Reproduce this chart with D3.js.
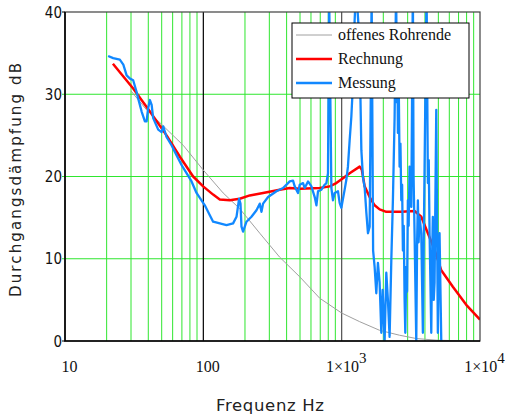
<!DOCTYPE html>
<html>
<head>
<meta charset="utf-8">
<script src="https://cdn.jsdelivr.net/npm/d3@7"></script>
<style>
  html, body { margin: 0; padding: 0; background: #fff; }
  svg { display: block; }
</style>
</head>
<body>
<div id="chart"></div>
<script>
// [frequency Hz, dB]
const rohrende = [
  [30, 30.4], [38.9, 28.1], [71.5, 23.8], [99.7, 20.8], [139, 18.0], [183, 16.1],
  [256, 13.1], [356, 10.2], [498, 7.8], [694, 5.2], [1000, 3.4], [1349, 2.35],
  [1881, 1.3], [2623, 0.7], [3462, 0.3], [4829, 0.1], [8500, 0]
];

const rechnung = [
  [22.2, 33.7], [31.1, 30.7], [41.1, 27.9], [54.2, 25.0], [67.7, 22.4], [84.4, 20.0],
  [99.7, 18.8], [117.7, 17.8], [131.5, 17.2], [155.4, 17.1], [183.4, 17.3], [216.6, 17.7],
  [270.3, 18.0], [356.6, 18.4], [421, 18.6], [498, 18.5], [694, 18.6], [819, 18.8],
  [915, 19.2], [1022, 19.8], [1142, 20.4], [1349, 21.2], [1400, 20.8], [1466, 18.8],
  [1593, 17.5], [1731, 16.5], [1881, 16.0], [2102, 15.7], [2698, 15.7], [3365, 15.8],
  [3763, 15.1], [4199, 13.1], [4694, 11.1], [5248, 8.6], [6364, 6.6], [7953, 4.4],
  [10000, 2.6]
];

const messung = [
  [20.5, 34.65], [22.3, 34.4], [24.9, 34.2], [26.4, 33.6], [27.9, 32.3], [29.5, 31.9],
  [31.1, 31.7], [32.9, 30.3], [33.8, 29.5], [35.8, 27.9], [37.8, 26.7], [38.9, 26.7],
  [39.9, 28.3], [41.1, 29.3], [42.3, 28.7], [43.4, 27.1], [47.2, 25.7], [49.9, 25.4],
  [51.3, 26.1], [54.2, 24.8], [58.9, 23.8], [64.0, 22.6], [69.6, 21.4], [75.6, 20.4],
  [82.2, 19.4], [89.3, 18.0], [102.5, 16.5], [111.4, 15.3], [117.7, 14.5], [131.5, 14.3],
  [147.1, 14.1], [164.1, 14.3], [173.7, 15.1], [181.3, 17.3], [185.6, 16.7], [188.7, 13.9],
  [193.8, 13.3], [205.1, 14.5], [222.8, 15.1], [242.2, 15.9], [255.8, 16.7], [263.2, 15.7],
  [270.3, 16.7], [293.8, 17.5], [337.7, 18.2], [376.9, 18.6], [409.6, 19.2], [421.2, 19.4],
  [445, 19.5], [457.6, 18.8], [483.5, 18.0], [497.6, 19.0], [525.6, 19.2], [540.7, 18.6],
  [571.2, 19.4], [604.4, 18.8], [638.5, 17.5], [656.9, 16.5], [674.5, 18.2], [713.7, 18.4],
  [754, 19.0], [775.5, 19.2], [796.4, 20.4], [812, 42], [842.5, 18.6], [865.3, 17.1],
  [890.2, 18.0], [940.4, 18.2], [967.4, 16.8], [995, 16.2], [1022, 17.3], [1051, 18.4],
  [1081, 19.6], [1110, 21.2], [1142, 24.4], [1175, 27.3], [1207, 31.3], [1221, 35.4],
  [1241, 39.0], [1272, 43], [1334, 37.4], [1365, 30.2], [1388, 23.2], [1425, 19.9],
  [1466, 18.7], [1508, 15.6], [1549, 13.1], [1593, 13.9], [1647, 42], [1688, 11.0],
  [1731, 9.0], [1780, 5.8], [1829, 9.5], [1881, 7.1], [1935, 1.0], [1977, 6.2],
  [2044, 0], [2102, 8.3], [2159, 5.0], [2221, 0.5], [2285, 9.8], [2346, 17.1],
  [2414, 27.2], [2475, 43], [2510, 29], [2530, 34], [2550, 25.3], [2590, 30],
  [2623, 21.2], [2660, 24], [2698, 17.1], [2735, 19], [2771, 11.0], [2810, 14],
  [2851, 5.0], [2884, 1.0], [2932, 9.0], [2970, 6], [3011, 17.1], [3050, 14],
  [3097, 21.2], [3186, 16.3], [3271, 43], [3310, 20], [3365, 13.1], [3462, 0],
  [3510, 12], [3556, 17.1], [3600, 12], [3658, 15.1], [3763, 13.1], [3864, 1.0],
  [3920, 12], [3976, 21.2], [4109, 43], [4199, 19.2], [4260, 22], [4320, 13.1],
  [4444, 1.0], [4500, 10], [4562, 15.1], [4630, 5], [4694, 7.1], [4829, 28.1],
  [4958, 1.0], [5030, 9], [5100, 13.1], [5248, 0]
];

const xTicks = [10, 100, 1000, 10000];
const xTickLabels = [['10', ''], ['100', ''], ['1×10', '3'], ['1×10', '4']];
const yTicks = [0, 10, 20, 30, 40];
const yGrid = [10, 20, 30];

const series = [
  {name: 'offenes Rohrende', data: rohrende, color: '#a0a0a0', width: 1},
  {name: 'Rechnung', data: rechnung, color: '#ff0000', width: 2.5},
  {name: 'Messung', data: messung, color: '#1188ff', width: 2.3}
];

const W = 505, H = 418;
const margin = {left: 65, right: 25, top: 12, bottom: 77};

const svg = d3.select('#chart').append('svg')
  .attr('width', W)
  .attr('height', H);

const x = d3.scaleLog().domain([10, 10000]).range([margin.left, W - margin.right]);
const y = d3.scaleLinear().domain([0, 40]).range([H - margin.bottom, margin.top]);

// minor decade lines
const minor = [];
[10, 100, 1000].forEach(function(d) {
  for (let k = 2; k <= 9; k++) minor.push(k * d);
});

svg.append('g').selectAll('line').data(minor).join('line')
  .attr('x1', d => x(d)).attr('x2', d => x(d))
  .attr('y1', y(0)).attr('y2', y(40))
  .attr('stroke', '#2fe62f').attr('stroke-width', 1);

svg.append('g').selectAll('line').data(yGrid).join('line')
  .attr('x1', x(10) - 3).attr('x2', x(10000))
  .attr('y1', d => y(d)).attr('y2', d => y(d))
  .attr('stroke', '#2fe62f').attr('stroke-width', 1);

svg.append('g').selectAll('line').data([100, 1000]).join('line')
  .attr('x1', d => x(d)).attr('x2', d => x(d))
  .attr('y1', y(0)).attr('y2', y(40))
  .attr('stroke', (d, i) => i === 0 ? '#000' : '#505050').attr('stroke-width', 1.2);

svg.append('defs').append('clipPath').attr('id', 'plot')
  .append('rect')
  .attr('x', x(10)).attr('y', y(40))
  .attr('width', x(10000) - x(10)).attr('height', y(0) - y(40));

const line = d3.line().x(d => x(d[0])).y(d => y(d[1]));

svg.append('g').attr('clip-path', 'url(#plot)')
  .selectAll('path').data(series).join('path')
  .attr('d', d => line(d.data))
  .attr('fill', 'none')
  .attr('stroke', d => d.color)
  .attr('stroke-width', d => d.width)
  .attr('stroke-linejoin', 'round');

// frame
svg.append('rect')
  .attr('x', x(10)).attr('y', y(40))
  .attr('width', x(10000) - x(10)).attr('height', y(0) - y(40))
  .attr('fill', 'none').attr('stroke', '#404040').attr('stroke-width', 1.2);
svg.append('path')
  .attr('d', 'M' + x(10) + ',' + y(40) + 'V' + y(0) + 'H' + x(10000))
  .attr('fill', 'none').attr('stroke', '#000').attr('stroke-width', 1.6);
svg.append('g').selectAll('line').data([0, 40]).join('line')
  .attr('x1', x(10) - 3).attr('x2', x(10))
  .attr('y1', d => y(d)).attr('y2', d => y(d))
  .attr('stroke', '#000');

// tick labels
svg.append('g').selectAll('text').data(yTicks).join('text')
  .attr('x', x(10) - 3)
  .attr('y', d => y(d) + 5.5)
  .attr('text-anchor', 'end')
  .attr('font-family', '"DejaVu Sans Condensed", "DejaVu Sans", sans-serif')
  .attr('font-size', 15)
  .attr('fill', '#111')
  .text(d => d);

const xl = svg.append('g').selectAll('text').data(xTicks).join('text')
  .attr('x', d => x(d) + 4.5)
  .attr('y', 372)
  .attr('text-anchor', 'middle')
  .attr('font-family', '"Liberation Serif", "Times New Roman", serif')
  .attr('font-size', 16)
  .attr('fill', '#111');
xl.append('tspan').text((d, i) => xTickLabels[i][0]);
xl.append('tspan')
  .attr('dy', -9).attr('font-size', 15)
  .text((d, i) => xTickLabels[i][1]);

// axis titles
svg.append('text')
  .attr('x', 270).attr('y', 411)
  .attr('text-anchor', 'middle')
  .attr('font-family', '"DejaVu Sans", sans-serif')
  .attr('font-size', 16.5)
  .attr('textLength', 108)
  .attr('lengthAdjust', 'spacing')
  .attr('fill', '#222')
  .text('Frequenz Hz');

svg.append('text')
  .attr('transform', 'translate(21,180) rotate(-90)')
  .attr('text-anchor', 'middle')
  .attr('font-family', '"DejaVu Sans", sans-serif')
  .attr('font-size', 15)
  .attr('textLength', 234)
  .attr('lengthAdjust', 'spacing')
  .attr('fill', '#222')
  .text('Durchgangsdämpfung dB');

// legend
const legend = svg.append('g').attr('transform', 'translate(292,23)');
legend.append('rect')
  .attr('width', 177).attr('height', 75)
  .attr('fill', '#fff').attr('stroke', '#000').attr('stroke-width', 1);
const rows = legend.selectAll('g').data(series).join('g')
  .attr('transform', (d, i) => 'translate(0,' + (12 + i * 24) + ')');
rows.append('line')
  .attr('x1', 4).attr('x2', 40)
  .attr('stroke', d => d.color)
  .attr('stroke-width', d => d.width === 1 ? 1 : 2.5);
rows.append('text')
  .attr('x', 46).attr('y', 5)
  .attr('font-family', '"Liberation Serif", "Times New Roman", serif')
  .attr('font-size', 16)
  .attr('fill', '#111')
  .text(d => d.name);
</script>
</body>
</html>
